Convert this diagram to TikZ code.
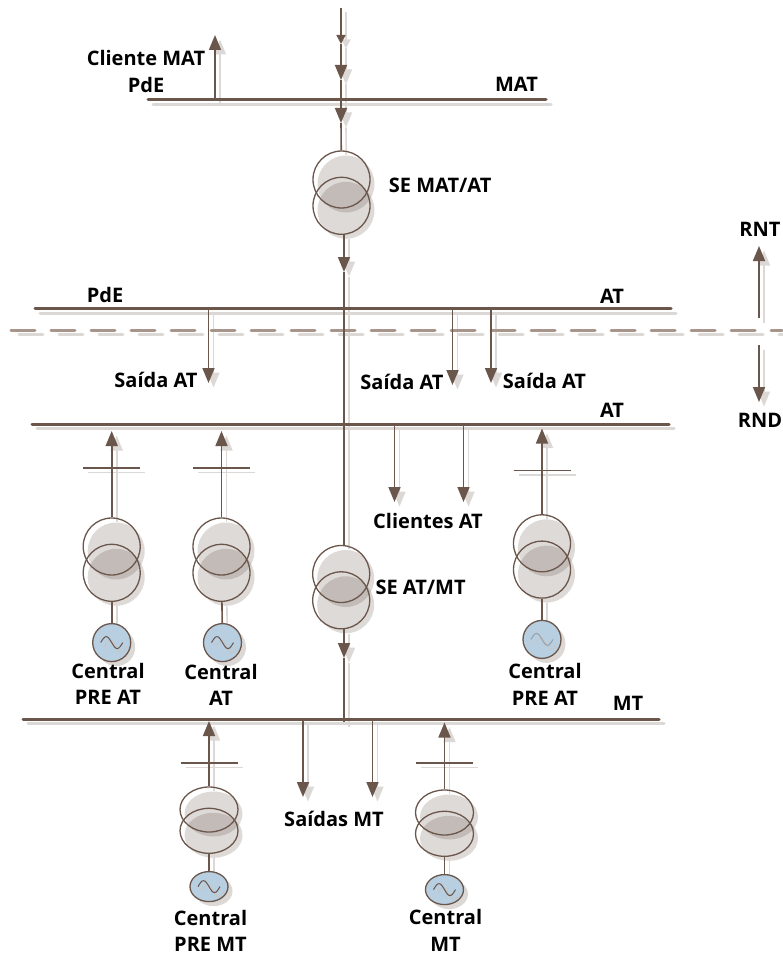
\documentclass[tikz,border=0pt]{standalone}
\usepackage{fontspec}
\setmainfont{Open Sans}
\usetikzlibrary{arrows.meta, positioning, calc, shapes.geometric}

\definecolor{ink}{HTML}{6B564C}
\definecolor{softgray}{HTML}{DCD8D5}
\definecolor{umbra}{HTML}{463223}
\definecolor{dashink}{HTML}{A8958A}
\definecolor{genfill}{HTML}{B7CFE1}

% windings and generators
\newcommand{\coilpass}{
    \foreach \t/\x/\y in {se1/341.5/179.5, se2/341.2/574, ca1/111.7/546.5, ca2/221.5/546.5, ca3/542/543.3} {
        \node[wnd] (\t a) at (\x,\y) {};
        \node[wnd, below=-32pt of \t a] (\t b) {};
    }
    \foreach \t/\x/\y in {pm/209/809.5, cm/444.5/812.5} {
        \node[wndflat] (\t a) at (\x,\y) {};
        \node[wndflat, below=-25pt of \t a] (\t b) {};
    }
    \node[gen, below=21pt of ca1b] (ca1g) {};
    \node[gen, below=21pt of ca2b, xshift=1pt] (ca2g) {};
    \node[gen, below=21pt of ca3b] (ca3g) {};
    \node[genflat, below=17pt of pmb] (pmg) {};
    \node[genflat, below=17pt of cmb] (cmg) {};
}

% buses, feeders and bars
\newcommand{\wirepass}{
    \draw[bus] (matL) -- (matR);
    \draw[bus] (at1L) -- (at1R);
    \draw[bus] (at2L) -- (at2R);
    \draw[bus] (mtL) -- (mtR);
    % main trunk
    \draw[esmall] (feed) -- (tipA);
    \draw[e] (tipA) -- (tipB);
    \draw[w] (tipB) -- (tipB |- matL);
    \draw[e] (tipB |- matL) -- (tipC);
    \draw[w] (tipC) -- (se1a);
    \draw[e] (tipD |- se1b.south) -- (tipD);
    \draw[w] (tipD) -- (tipE);
    \draw[w] (tipE) -- (tipE |- se2a.north);
    \draw[e] (tipF |- se2b.south) -- (tipF);
    \draw[w] (tipF) -- (trunkEnd);
    % branches
    \draw[e] (cliMat |- matL) -- (cliMat);
    \foreach \c in {sa1, sa2, sa3} {\draw[e] (\c |- at1L) -- (\c);}
    \foreach \c in {cl1, cl2} {\draw[e] (\c |- at2L) -- (\c);}
    \foreach \c in {sm1, sm2} {\draw[e] (\c |- mtL) -- (\c);}
    % central units
    \foreach \t in {ca1, ca2, ca3, pm, cm} {
        \draw[e] (\t a) -- (\t T);
        \draw[w] (\t b) -- (\t g);
        \draw[barline] (\t L) -- (\t R);
    }
    \draw[e] (rntA) -- (rntB);
    \draw[e] (rndA) -- (rndB);
}

\newcommand{\acwave}[2]{
    \draw[wave, softgray!80!gray] ([shift={(-7pt,-4pt)}]#1.center) sin ++(5.5,-6) cos ++(5.5,6) sin ++(5.5,6) cos ++(5.5,-6);
    \draw[wave, #2] ([xshift=-11pt]#1.center) sin ++(5.5,-6) cos ++(5.5,6) sin ++(5.5,6) cos ++(5.5,-6);
}

\begin{document}
\begin{tikzpicture}[
    x=1pt, y=-1pt,
    w/.style={draw=ink, line width=1.6pt},
    e/.style={w, -{Triangle[length=15pt, width=12pt]}},
    esmall/.style={w, -{Triangle[length=9pt, width=9pt]}},
    bus/.style={draw=ink, line width=3pt, line cap=round},
    barline/.style={draw=ink, line width=1.3pt},
    dashrule/.style={line width=3pt, line cap=round, dash pattern=on 24pt off 16pt},
    wnd/.style={ellipse, draw=ink, line width=1.3pt, minimum width=57pt, minimum height=57pt, inner sep=0pt},
    wndflat/.style={wnd, minimum width=58pt, minimum height=45pt},
    gen/.style={ellipse, draw=ink, fill=genfill, line width=1.3pt, minimum width=38pt, minimum height=38pt, inner sep=0pt},
    genflat/.style={gen, minimum height=30pt},
    wave/.style={line width=1pt},
    lab/.style={font=\fontsize{20}{26.5}\selectfont\bfseries, align=center, inner sep=0pt},
]
    \useasboundingbox (0,0) rectangle (782,955);

    \coordinate (matL) at (148,100);   \coordinate (matR) at (546,100);
    \coordinate (at1L) at (35,308.5);  \coordinate (at1R) at (671,308.5);
    \coordinate (at2L) at (32,424);    \coordinate (at2R) at (669,424);
    \coordinate (mtL) at (23,719);     \coordinate (mtR) at (659,719);
    \coordinate (dashL) at (11,330);   \coordinate (dashR) at (782,330);
    \coordinate (feed) at (341,8);
    \coordinate (tipA) at (341,44);
    \coordinate (tipB) at (341,80);
    \coordinate (tipC) at (341,123);
    \coordinate (tipD) at (344,272);
    \coordinate (tipE) at (344,463);
    \coordinate (tipF) at (344,658);
    \coordinate (trunkEnd) at (344,722);
    \coordinate (cliMat) at (215,35);
    \coordinate (sa1) at (208.5,383);
    \coordinate (sa2) at (452.5,385);
    \coordinate (sa3) at (491,383);
    \coordinate (cl1) at (394.5,502);
    \coordinate (cl2) at (463.5,502);
    \coordinate (sm1) at (303,797);
    \coordinate (sm2) at (372.5,797);
    \coordinate (rntA) at (759,318);   \coordinate (rntB) at (759,246);
    \coordinate (rndA) at (759,345);   \coordinate (rndB) at (759,402);
    \foreach \t/\x/\y/\z in {ca1/111.7/468/431, ca2/221.5/468/431, ca3/542/470.5/428.5, pm/209/763/721, cm/444.5/763/722.5} {
        \coordinate (\t L) at (\x-28.5,\y);
        \coordinate (\t R) at (\x+28.5,\y);
        \coordinate (\t T) at (\x,\z);
    }

    % drop shadows first
    \begin{scope}[transform canvas={shift={(4.5pt,-4.5pt)}},
        wnd/.append style={draw=none, fill=umbra, fill opacity=.18},
        gen/.append style={draw=none, fill=softgray}]
        \coilpass
    \end{scope}
    \begin{scope}[transform canvas={shift={(5pt,-4.5pt)}}]
        \colorlet{ink}{softgray}
        \wirepass
    \end{scope}
    \draw[dashrule, softgray, transform canvas={shift={(8pt,-4.5pt)}}] (dashL) -- (dashR);

    \draw[dashrule, dashink] (dashL) -- (dashR);
    \wirepass
    \coilpass
    \acwave{ca1g}{ink}
    \acwave{ca2g}{ink}
    \acwave{ca3g}{ink!40!genfill}
    \acwave{pmg}{ink}
    \acwave{cmg}{ink}

    \node[lab] (cliLab) at (146,71.5) {Cliente MAT\\PdE};
    \node[lab] (matLab) at (516.5,84) {MAT};
    \node[lab, right=18pt of se1a, yshift=-6pt] (se1Lab) {SE MAT/AT};
    \node[lab] (pdeLab) at (105,295) {PdE};
    \node[lab] (at1Lab) at (612,296.5) {AT};
    \node[lab] (sa1Lab) at (156,380) {Saída AT};
    \node[lab] (sa2Lab) at (402,381.5) {Saída AT};
    \node[lab] (sa3Lab) at (544.5,381) {Saída AT};
    \node[lab] (at2Lab) at (612,410.5) {AT};
    \node[lab] (rntLab) at (760,229) {RNT};
    \node[lab] (rndLab) at (760,420) {RND};
    \node[lab] (cliATLab) at (428,520.5) {Clientes AT};
    \node[lab, right=5pt of se2a, yshift=-13pt] (se2Lab) {SE AT/MT};
    \node[lab] (ca1Lab) at (108,684) {Central\\PRE AT};
    \node[lab] (ca2Lab) at (221,685) {Central\\AT};
    \node[lab] (ca3Lab) at (545,684.5) {Central\\PRE AT};
    \node[lab] (mtLab) at (628,703) {MT};
    \node[lab] (smLab) at (334,819) {Saídas MT};
    \node[lab] (pmLab) at (210.5,931) {Central\\PRE MT};
    \node[lab] (cmLab) at (445.5,930.5) {Central\\MT};
\end{tikzpicture}
\end{document}
